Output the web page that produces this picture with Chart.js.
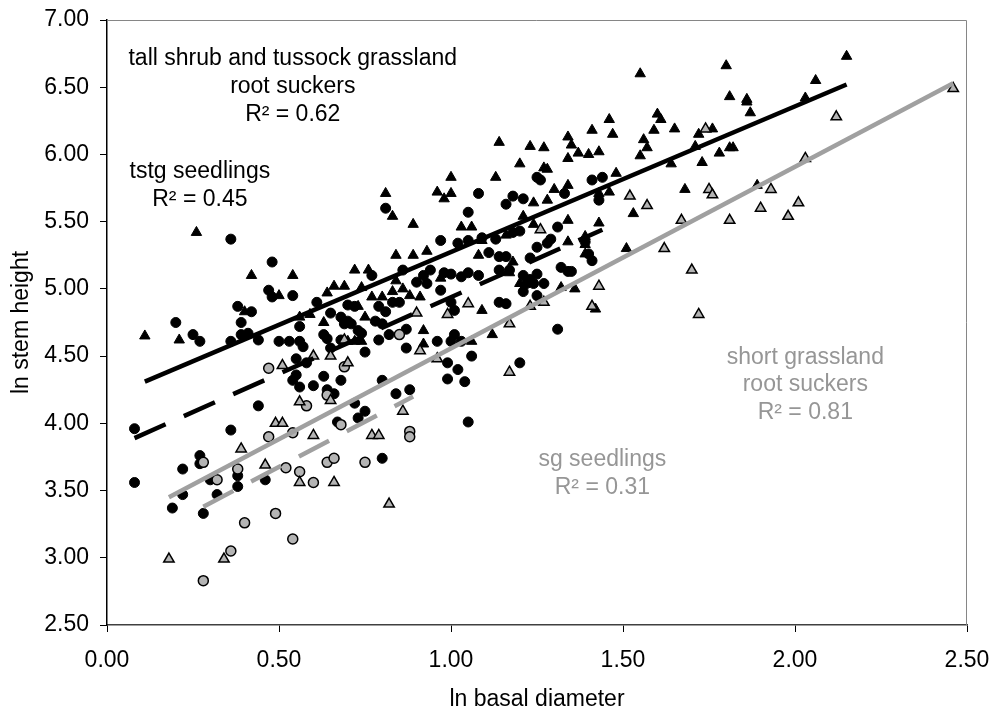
<!DOCTYPE html>
<html>
<head>
<meta charset="utf-8">
<title>ln stem height vs ln basal diameter</title>
<script src="https://cdn.jsdelivr.net/npm/chart.js@4/dist/chart.umd.min.js"></script>
<style>
  html, body { margin: 0; padding: 0; background: #fff; }
  #wrap { width: 991px; height: 706px; }
</style>
</head>
<body>
<div id="wrap"><canvas id="chart" width="991" height="706"></canvas></div>
<script>
// tall shrub and tussock grassland (tstg) root suckers - black triangles
const tstgSuckersX = [0.11,0.21,0.26,0.40,0.42,0.50,0.54,0.56,0.59,0.63,
  0.64,0.66,0.69,0.70,0.72,0.74,0.72,0.73,0.74,0.75,
  0.76,0.77,0.80,0.81,0.83,0.83,0.84,0.84,0.86,0.88,
  0.89,0.89,0.91,0.93,0.92,0.92,0.96,0.97,0.98,1.00,
  1.00,1.03,1.06,1.06,1.08,1.09,1.09,1.12,1.13,1.14,
  1.16,1.18,1.17,1.20,1.20,1.21,1.23,1.24,1.24,1.27,
  1.27,1.28,1.28,1.30,1.32,1.34,1.34,1.34,1.34,1.34,
  1.35,1.36,1.37,1.39,1.39,1.39,1.40,1.41,1.42,1.43,
  1.43,1.43,1.46,1.46,1.47,1.48,1.51,1.53,1.55,1.55,
  1.56,1.57,1.59,1.60,1.61,1.64,1.65,1.68,1.71,1.72,
  1.73,1.76,1.78,1.80,1.81,1.81,1.82,1.86,1.86,1.87,
  1.89,2.03,2.06,2.15];
const tstgSuckersY = [4.65,4.62,5.42,4.83,5.10,4.95,5.10,4.79,4.81,4.75,
  4.97,5.02,5.02,4.61,4.61,4.61,5.14,4.87,5.01,4.79,
  5.14,4.94,4.94,5.71,5.54,4.98,5.25,5.06,5.00,4.95,
  5.48,5.25,4.94,5.28,4.69,4.59,5.72,5.08,5.67,5.71,
  5.83,5.46,5.46,4.61,5.25,4.84,5.36,4.66,5.83,6.09,
  5.40,5.20,5.12,5.93,5.04,5.54,6.06,5.48,5.64,6.05,
  5.90,5.89,5.66,5.74,5.01,5.77,6.13,5.97,5.51,5.35,
  6.07,5.00,6.01,5.39,5.33,5.26,6.00,6.18,4.85,5.49,
  6.02,5.71,6.26,5.72,6.15,5.86,5.30,5.56,6.60,5.99,
  6.11,6.05,6.18,6.30,6.26,5.93,6.19,5.74,6.06,6.15,
  5.94,6.19,6.01,6.66,6.43,6.05,6.05,6.41,6.39,6.31,
  5.77,6.42,6.55,6.73];

// tstg seedlings - black circles
const tstgSeedX = [0.08,0.08,0.19,0.20,0.22,0.22,0.25,0.27,0.27,0.27,
  0.28,0.30,0.32,0.36,0.36,0.36,0.38,0.38,0.38,0.39,
  0.39,0.41,0.42,0.44,0.44,0.46,0.47,0.48,0.48,0.50,
  0.53,0.54,0.54,0.55,0.55,0.56,0.56,0.56,0.57,0.58,
  0.60,0.61,0.63,0.63,0.64,0.64,0.65,0.65,0.66,0.67,
  0.68,0.68,0.69,0.70,0.70,0.68,0.72,0.72,0.71,0.73,
  0.73,0.74,0.75,0.75,0.77,0.79,0.78,0.79,0.80,0.80,
  0.81,0.81,0.80,0.82,0.83,0.84,0.85,0.86,0.87,0.87,
  0.88,0.97,0.90,0.92,0.93,0.94,0.96,0.97,0.98,
  0.99,0.99,1.00,1.01,1.02,1.02,1.03,1.04,1.05,1.05,
  1.05,1.06,1.05,1.08,1.08,1.14,1.16,1.11,1.14,1.16,
  1.14,1.17,1.16,1.18,1.18,1.20,1.20,1.21,1.21,1.21,
  1.23,1.25,1.25,1.25,1.26,1.25,1.28,1.24,1.31,1.31,
  1.32,1.34,1.35,1.39,1.40,1.41,1.41,1.44,1.43,1.33,
  1.09,1.13,1.29,1.23,1.22,1.27,1.00,1.03,1.01,1.00];
const tstgSeedY = [3.96,3.56,3.37,4.75,3.47,3.66,4.66,4.61,3.76,3.70,
  3.33,3.58,3.47,5.37,4.61,3.95,4.87,3.61,3.53,4.75,
  4.66,4.67,4.83,4.62,4.13,3.58,4.99,5.20,4.94,4.61,
  4.61,4.95,4.32,4.36,4.48,4.61,4.72,4.27,4.57,4.45,
  4.28,4.90,4.35,4.66,4.63,4.25,4.82,4.56,4.22,4.01,
  4.32,4.79,4.74,4.76,4.88,4.62,4.15,4.87,4.74,4.04,
  4.69,4.67,4.53,4.09,5.10,4.87,4.76,4.62,4.32,4.74,
  4.83,5.60,3.74,4.66,4.90,4.22,4.90,5.14,4.56,4.70,
  4.25,4.99,5.05,5.10,5.04,5.14,4.61,5.36,5.12,
  4.45,4.33,4.61,4.66,5.34,4.40,4.61,4.31,4.01,5.36,
  5.57,4.50,5.12,5.71,5.10,4.90,4.89,5.27,5.24,5.24,
  5.14,5.14,5.63,5.69,5.42,5.43,4.45,5.67,5.10,4.98,
  5.23,5.83,5.11,4.95,5.81,5.31,5.34,5.04,5.46,4.70,
  5.16,5.13,5.13,5.35,5.26,5.21,5.81,5.83,5.66,5.71,
  5.38,5.37,5.37,5.07,5.04,5.04,5.11,5.09,4.84,4.90];

// short grassland (sg) root suckers - grey triangles
const sgSuckersX = [0.18,0.34,0.39,0.46,0.49,0.51,0.51,0.56,0.56,
  0.60,0.60,0.65,0.65,0.66,0.69,0.70,0.77,0.79,0.82,
  0.86,0.90,0.91,0.96,0.99,1.05,1.17,1.17,1.23,1.26,
  1.27,1.41,1.43,1.52,1.57,1.62,1.67,1.70,1.72,1.74,
  1.75,1.76,1.81,1.90,1.93,1.98,2.01,2.03,2.12,2.46];
const sgSuckersY = [2.99,2.99,3.81,3.69,4.00,4.00,4.43,4.16,3.56,
  3.91,4.50,4.17,4.50,3.56,4.62,4.45,3.91,3.91,3.40,
  4.09,4.82,4.54,4.48,4.81,4.89,4.74,4.38,4.87,5.44,
  4.90,4.87,5.02,5.69,5.62,5.30,5.51,5.14,4.81,6.19,
  5.74,5.70,5.51,5.60,5.74,5.54,5.64,5.97,6.28,6.49];

// sg seedlings - grey circles
const sgSeedX = [0.28,0.36,0.40,0.49,0.54,0.28,0.32,0.38,0.47,0.47,
  0.52,0.54,0.56,0.58,0.60,0.64,0.64,0.66,0.68,0.69,
  0.75,0.85,0.88,0.88];
const sgSeedY = [2.83,3.05,3.26,3.33,3.14,3.71,3.58,3.66,3.90,4.41,
  3.67,3.93,3.64,4.13,3.56,4.21,3.71,3.74,3.99,4.42,
  3.71,4.66,3.94,3.90];

// fitted trend lines, end points
const tstgSuckersFitX = [0.11, 2.15], tstgSuckersFitY = [4.31, 6.52];
const tstgSeedFitX = [0.08, 1.44], tstgSeedFitY = [3.89, 5.44];
const sgSuckersFitX = [0.18, 2.46], sgSuckersFitY = [3.45, 6.53];
const sgSeedFitX = [0.28, 0.89], sgSeedFitY = [3.38, 4.20];

const xTicks = [0, 0.5, 1, 1.5, 2, 2.5];
const yTicks = [2.5, 3, 3.5, 4, 4.5, 5, 5.5, 6, 6.5, 7];

const FONT = "'Liberation Sans', Arial, sans-serif";
const GREY = "#a0a0a0";
const GREY_MARK = "#b4b4b4";
const GREY_TEXT = "#969696";

function pts(xs, ys) {
  return xs.map((x, i) => ({ x: x, y: ys[i] }));
}

// text notes next to the fits
const notes = [
  { x: 0.54, y: 6.71, color: "#000", lines: ["tall shrub and tussock grassland", "root suckers", "R\u00b2 = 0.62"] },
  { x: 0.27, y: 5.87, color: "#000", lines: ["tstg seedlings", "R\u00b2 = 0.45"] },
  { x: 1.44, y: 3.73, color: GREY_TEXT, lines: ["sg seedlings", "R\u00b2 = 0.31"] },
  { x: 2.03, y: 4.49, color: GREY_TEXT, lines: ["short grassland", "root suckers", "R\u00b2 = 0.81"] }
];

const extras = {
  id: "extras",
  afterDatasetsDraw(chart) {
    const ctx = chart.ctx;
    const a = chart.chartArea;
    const xs = chart.scales.x, ys = chart.scales.y;
    ctx.save();
    // top and right frame
    ctx.strokeStyle = "#868686";
    ctx.lineWidth = 1;
    ctx.beginPath();
    ctx.moveTo(a.left, a.top + 0.5);
    ctx.lineTo(a.right - 0.5, a.top + 0.5);
    ctx.lineTo(a.right - 0.5, a.bottom);
    ctx.stroke();
    ctx.font = "23px " + FONT;
    ctx.textAlign = "center";
    ctx.textBaseline = "middle";
    notes.forEach(n => {
      ctx.fillStyle = n.color;
      const px = xs.getPixelForValue(n.x);
      const py = ys.getPixelForValue(n.y);
      n.lines.forEach((t, i) => ctx.fillText(t, px, py + i * 27.6));
    });
    ctx.restore();
  }
};

function fitSet(xs, ys, color, dash) {
  return {
    type: "scatter",
    data: pts(xs, ys),
    showLine: true,
    borderColor: color,
    borderWidth: 4.5,
    borderDash: dash,
    borderCapStyle: "butt",
    pointRadius: 0,
    fill: false,
    order: 1
  };
}

new Chart(document.getElementById("chart"), {
  type: "scatter",
  data: {
    datasets: [
      fitSet(tstgSuckersFitX, tstgSuckersFitY, "#000", []),
      fitSet(tstgSeedFitX, tstgSeedFitY, "#000", [34, 20]),
      fitSet(sgSuckersFitX, sgSuckersFitY, GREY, []),
      fitSet(sgSeedFitX, sgSeedFitY, GREY, [34, 20]),
      {
        data: pts(sgSuckersX, sgSuckersY),
        pointStyle: "triangle", pointRadius: 6,
        backgroundColor: GREY_MARK, borderColor: "#000", borderWidth: 1.5,
        order: 2
      },
      {
        data: pts(sgSeedX, sgSeedY),
        pointStyle: "circle", pointRadius: 5,
        backgroundColor: GREY_MARK, borderColor: "#000", borderWidth: 1.5,
        order: 2
      },
      {
        data: pts(tstgSuckersX, tstgSuckersY),
        pointStyle: "triangle", pointRadius: 6,
        backgroundColor: "#000", borderColor: "#000", borderWidth: 1,
        order: 3
      },
      {
        data: pts(tstgSeedX, tstgSeedY),
        pointStyle: "circle", pointRadius: 5,
        backgroundColor: "#000", borderColor: "#000", borderWidth: 1,
        order: 3
      }
    ]
  },
  options: {
    responsive: false,
    animation: false,
    events: [],
    layout: { padding: { left: 0, right: 24, top: 20, bottom: 0 } },
    plugins: { legend: { display: false }, tooltip: { enabled: false } },
    scales: {
      x: {
        type: "linear",
        min: 0, max: 2.5,
        afterBuildTicks: s => { s.ticks = xTicks.map(v => ({ value: v })); },
        afterFit: s => { s.height = 81; s.paddingLeft = 0; s.paddingRight = 0; },
        grid: { drawOnChartArea: false, drawTicks: true, tickLength: 7, color: "#000", lineWidth: 1 },
        border: { display: true, color: "#404040", width: 1.5 },
        ticks: { color: "#000", font: { family: FONT, size: 23 }, padding: 15, maxRotation: 0, autoSkip: false,
          callback: v => v.toFixed(2) },
        title: { display: true, text: "ln basal diameter", color: "#000",
          font: { family: FONT, size: 23, lineHeight: 1 }, padding: { top: 0, bottom: -5 } }
      },
      y: {
        type: "linear",
        min: 2.5, max: 7,
        afterBuildTicks: s => { s.ticks = yTicks.map(v => ({ value: v })); },
        afterFit: s => { s.width = 107; s.paddingTop = 0; s.paddingBottom = 0; },
        grid: { drawOnChartArea: false, drawTicks: true, tickLength: 7, color: "#000", lineWidth: 1 },
        border: { display: true, color: "#000", width: 1.5 },
        ticks: { color: "#000", font: { family: FONT, size: 23 }, padding: 11, autoSkip: false,
          callback: v => v.toFixed(2) },
        title: { display: true, text: "ln stem height", color: "#000",
          font: { family: FONT, size: 23, lineHeight: 1 }, padding: { top: 10, bottom: 0 } }
      }
    }
  },
  plugins: [extras]
});
</script>
</body>
</html>
